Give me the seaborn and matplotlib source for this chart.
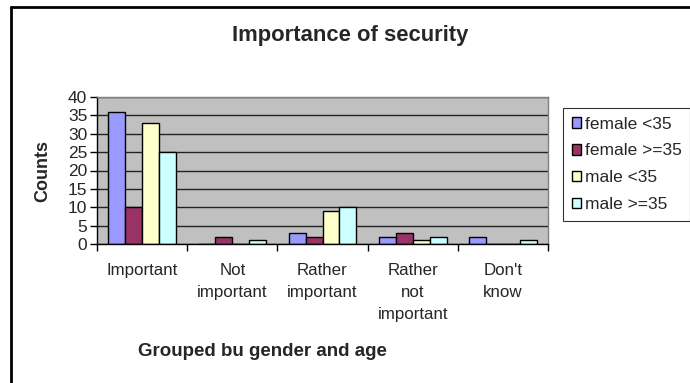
import matplotlib
matplotlib.use("Agg")
import matplotlib.pyplot as plt
import seaborn as sns
import pandas as pd
from matplotlib.lines import Line2D

categories = ["Important", "Not\nimportant", "Rather\nimportant", "Rather\nnot\nimportant", "Don't\nknow"]
groups = ["female <35", "female >=35", "male <35", "male >=35"]
female_lt35 = [36, 0, 3, 2, 2]
female_ge35 = [10, 2, 2, 3, 0]
male_lt35 = [33, 0, 9, 1, 0]
male_ge35 = [25, 1, 10, 2, 1]
yticks = [0, 5, 10, 15, 20, 25, 30, 35, 40]
colors = ["#9999FF", "#993366", "#FFFFCC", "#CCFFFF"]

rows = []
for g, vals in zip(groups, [female_lt35, female_ge35, male_lt35, male_ge35]):
    for c, v in zip(categories, vals):
        rows.append({"cat": c, "grp": g, "val": v})
df = pd.DataFrame(rows)

sns.set_style("white")
plt.rcParams['font.family'] = ['Liberation Sans', 'DejaVu Sans']

fig = plt.figure(figsize=(6.9, 3.83), dpi=100)
ax = fig.add_axes([97/690, 1-244/383, (548-97)/690, (244-97)/383])
ax.set_facecolor("#C0C0C0")

sns.barplot(data=df, x="cat", y="val", hue="grp", order=categories, hue_order=groups,
            palette=colors, width=0.75, edgecolor="black", linewidth=1, ax=ax, legend=True,
            saturation=1)

ax.set_ylim(0, 40)
ax.set_xlim(-0.5, 4.5)
ax.set_yticks(yticks)
ax.set_yticklabels([str(t) for t in yticks], fontsize=12.5)
ax.yaxis.grid(True, color="#222222", linewidth=1)
ax.set_axisbelow(True)
ax.tick_params(axis="y", length=5, width=1, color="black", left=True, pad=2)
ax.set_xticks(range(len(categories)))
ax.set_xticklabels(categories, fontsize=12.2, linespacing=1.55, va="top")
ax.set_xticks([i - 0.5 for i in range(len(categories) + 1)], minor=True)
ax.tick_params(axis="x", which="major", length=0, pad=14)
ax.tick_params(axis="x", which="minor", length=5, width=1, color="black", bottom=True)
for s in ["left", "bottom"]:
    ax.spines[s].set_color("black")
    ax.spines[s].set_linewidth(1)
for s in ["top", "right"]:
    ax.spines[s].set_color("#808080")
    ax.spines[s].set_linewidth(1)

ax.set_ylabel("Counts", fontsize=13, fontweight="bold", labelpad=12)
ax.set_xlabel("")
fig.text(262/690, 1-352/383, "Grouped bu gender and age", fontsize=13.5, fontweight="bold",
         ha="center", va="center")
fig.text(350/690, 1-35/383, "Importance of security", fontsize=15.8, fontweight="bold",
         ha="center", va="center")

handles = [plt.Rectangle((0, 0), 1, 1, facecolor=c, edgecolor="black", linewidth=1) for c in colors]
ax.legend(handles, groups, loc="upper left", bbox_to_anchor=(563/690, 1-108/383),
          bbox_transform=fig.transFigure, frameon=True, fontsize=12.5, fancybox=False,
          edgecolor="black", handlelength=0.55, handleheight=0.55, handletextpad=0.2,
          labelspacing=0.68, borderpad=0.5, borderaxespad=0)
ax.get_legend().get_frame().set_linewidth(0.8)

fig.add_artist(Line2D([11/690, 11/690], [0, 1-7/383], color="black", linewidth=2,
                      transform=fig.transFigure))
fig.add_artist(Line2D([11/690, 1], [1-7/383, 1-7/383], color="black", linewidth=2,
                      transform=fig.transFigure))

fig.savefig("out.png", dpi=100)
